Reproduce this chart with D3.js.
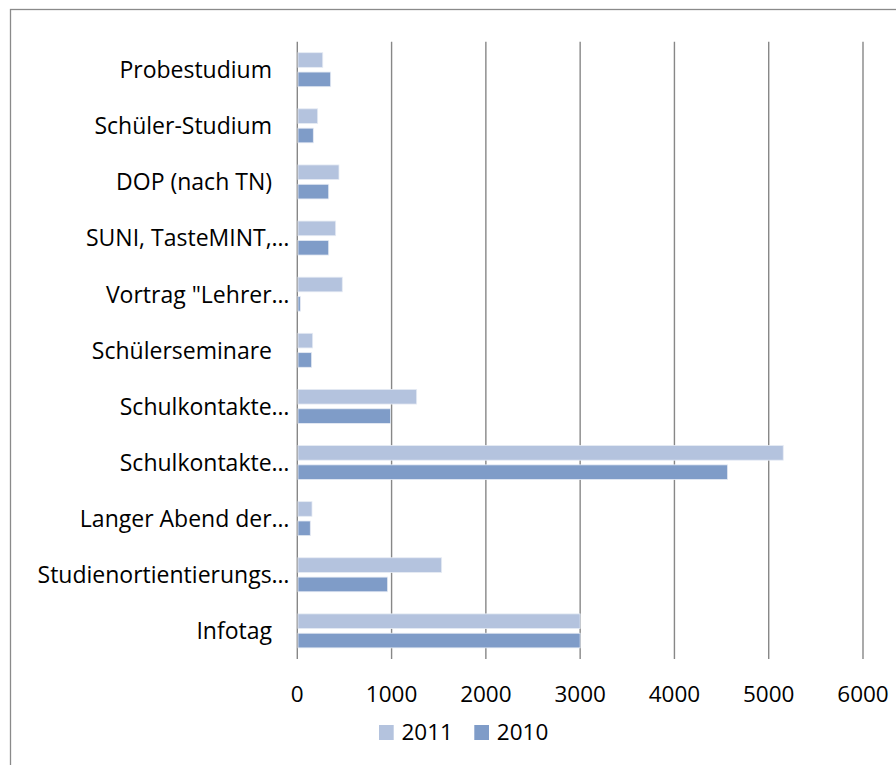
<!DOCTYPE html>
<html>
<head>
<meta charset="utf-8">
<script src="https://cdn.jsdelivr.net/npm/d3@7"></script>
<style>
  html, body { margin: 0; padding: 0; background: #fff; }
  svg { display: block; }
  text { font-family: "Open Sans", Lato, sans-serif; fill: #000; }
</style>
</head>
<body>
<svg id="chart" width="896" height="765"></svg>
<script>
const categories = [
  "Probestudium",
  "Schüler-Studium",
  "DOP (nach TN)",
  "SUNI, TasteMINT,…",
  "Vortrag \"Lehrer…",
  "Schülerseminare",
  "Schulkontakte…",
  "Schulkontakte…",
  "Langer Abend der…",
  "Studienortientierungs…",
  "Infotag"
];
const series = ["2011", "2010"];
const values2011 = [270, 216, 442, 407, 477, 163, 1266, 5154, 156, 1531, 3000];
const values2010 = [354, 170, 333, 333, 32, 152, 990, 4564, 138, 958, 3000];
const xTicks = [0, 1000, 2000, 3000, 4000, 5000, 6000];
const colors = ["#b4c3de", "#7f9cc8"];

const svg = d3.select("#chart");

// outer frame (right/bottom edges fall outside the picture)
svg.append("rect")
  .attr("x", 10.5).attr("y", 9.5)
  .attr("width", 1000).attr("height", 1000)
  .attr("fill", "none").attr("stroke", "#8a8a8a").attr("stroke-width", 1.3);

const plotTop = 41.7, plotBottom = 659;
const x = d3.scaleLinear().domain([0, 6000]).range([297.3, 863]);
const y = d3.scaleBand().domain(categories.map((c, i) => i)).range([plotTop, plotBottom]).padding(0);
const inner = d3.scaleBand().domain(series).range([11, 45]).paddingInner(0.243).paddingOuter(0);

// gridlines
svg.append("g").selectAll("line")
  .data(xTicks)
  .join("line")
  .attr("x1", d => x(d)).attr("x2", d => x(d))
  .attr("y1", plotTop).attr("y2", plotBottom)
  .attr("stroke", "#878787").attr("stroke-width", 1.4);

// bars
const data = [];
categories.forEach((c, i) => {
  data.push({ i, s: "2011", v: values2011[i] });
  data.push({ i, s: "2010", v: values2010[i] });
});
svg.append("g").selectAll("rect")
  .data(data)
  .join("rect")
  .attr("x", x(0) + 0.7)
  .attr("y", d => y(d.i) + inner(d.s))
  .attr("width", d => x(d.v) - x(0) - 0.7)
  .attr("height", inner.bandwidth())
  .attr("fill", d => colors[series.indexOf(d.s)])
  .attr("stroke", "#e6ebf4").attr("stroke-width", 0.8);

// category labels
svg.append("g").selectAll("text")
  .data(categories)
  .join("text")
  .attr("x", d => d.endsWith("…") ? 289.5 : 272)
  .attr("y", (d, i) => y(i) + y.bandwidth() / 2 + 8.3)
  .attr("text-anchor", "end")
  .attr("font-size", 23)
  .text(d => d);

// x tick labels
svg.append("g").selectAll("text")
  .data(xTicks)
  .join("text")
  .attr("x", d => x(d))
  .attr("y", 701.7)
  .attr("text-anchor", "middle")
  .attr("font-size", 22.5)
  .text(d => d);

// legend
const legendX = [379, 474.3];
const lg = svg.append("g").selectAll("g")
  .data(series)
  .join("g")
  .attr("transform", (d, i) => `translate(${legendX[i]},725)`);
lg.append("rect")
  .attr("width", 14.7).attr("height", 15)
  .attr("fill", (d, i) => colors[i]);
lg.append("text")
  .attr("x", 22.5).attr("y", 15)
  .attr("font-size", 22.5)
  .text(d => d);
</script>
</body>
</html>
